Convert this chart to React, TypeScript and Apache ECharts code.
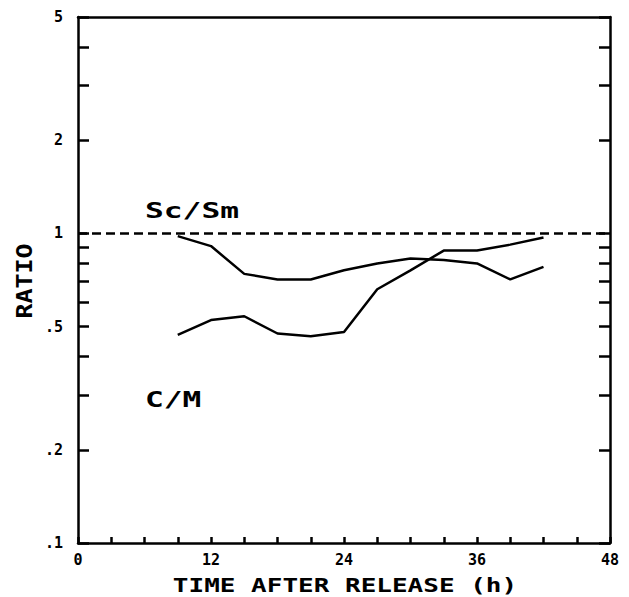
import React, { useEffect, useRef } from "react";
import * as echarts from "echarts";

// Time after release (h)
const hours = [9, 12, 15, 18, 21, 24, 27, 30, 33, 36, 39, 42];
// Ratio series
const scSmRatio = [0.98, 0.91, 0.74, 0.71, 0.71, 0.76, 0.8, 0.83, 0.82, 0.8, 0.71, 0.78];
const cmRatio = [0.47, 0.525, 0.54, 0.475, 0.465, 0.48, 0.66, 0.76, 0.88, 0.88, 0.92, 0.97];
// Reference ratio (dashed line)
const referenceRatio = 1;

// Axis ticks and labels
const yLabelValues = [0.1, 0.2, 0.5, 1, 2, 5];
const yLabelTexts = [".1", ".2", ".5", "1", "2", "5"];
const yTickValues = [0.1, 0.2, 0.3, 0.4, 0.5, 0.6, 0.7, 0.8, 0.9, 1, 2, 3, 4, 5];
const xTickValues = [0, 3, 6, 9, 12, 15, 18, 21, 24, 27, 30, 33, 36, 39, 42, 45, 48];
const xLabelValues = [0, 12, 24, 36, 48];

const FONT = '"DejaVu Sans Mono", "Liberation Mono", monospace';

function yLabel(v: number): string {
  let best = 0;
  let bestD = Infinity;
  yLabelValues.forEach((lv, i) => {
    const d = Math.abs(Math.log(v) - Math.log(lv));
    if (d < bestD) {
      bestD = d;
      best = i;
    }
  });
  return yLabelTexts[best];
}

export default function App() {
  const ref = useRef<HTMLDivElement>(null);
  useEffect(() => {
    if (!ref.current) return;
    const chart = echarts.init(ref.current, undefined, { renderer: "svg" });
    const mkLine = () => ({ show: true, onZero: false, lineStyle: { color: "#000", width: 2.5 } });
    const mkYAxis = (position: "left" | "right", showLabel: boolean) => ({
      type: "log" as const,
      position,
      min: 0.1,
      max: 5,
      logBase: 10,
      axisLine: mkLine(),
      splitLine: { show: false },
      minorTick: { show: false },
      axisTick: {
        show: true,
        inside: true,
        length: 11,
        customValues: yTickValues,
        lineStyle: { color: "#000", width: 2.5 },
      },
      axisLabel: showLabel
        ? {
            show: true,
            customValues: yLabelValues,
            margin: 15,
            color: "#000",
            fontFamily: FONT,
            fontWeight: "bold",
            fontSize: 15,
            formatter: (v: number) => yLabel(v),
          }
        : { show: false },
    });
    chart.setOption({
      animation: false,
      backgroundColor: "#fff",
      grid: { left: 78, right: 19, top: 17, bottom: 54, containLabel: false },
      xAxis: [
        {
          type: "value",
          position: "bottom",
          min: 0,
          max: 48,
          interval: 12,
          axisLine: mkLine(),
          splitLine: { show: false },
          axisTick: {
            show: true,
            inside: true,
            length: 6,
            customValues: xTickValues,
            lineStyle: { color: "#000", width: 2.5 },
          },
          axisLabel: {
            show: true,
            customValues: xLabelValues,
            margin: 9,
            color: "#000",
            fontFamily: FONT,
            fontWeight: "bold",
            fontSize: 15,
          },
        },
        {
          type: "value",
          position: "top",
          min: 0,
          max: 48,
          interval: 12,
          axisLine: mkLine(),
          splitLine: { show: false },
          axisTick: { show: false },
          axisLabel: { show: false },
        },
      ],
      yAxis: [mkYAxis("left", true), mkYAxis("right", false)],
      series: [
        {
          name: "Sc/Sm",
          type: "line",
          xAxisIndex: 0,
          yAxisIndex: 0,
          data: hours.map((h, i) => [h, scSmRatio[i]]),
          showSymbol: false,
          symbol: "none",
          lineStyle: { color: "#000", width: 2.5 },
          markLine: {
            silent: true,
            symbol: ["none", "none"],
            label: { show: false },
            lineStyle: { color: "#000", width: 2.5, type: [9, 5] },
            data: [{ yAxis: referenceRatio }],
          },
        },
        {
          name: "C/M",
          type: "line",
          xAxisIndex: 0,
          yAxisIndex: 0,
          data: hours.map((h, i) => [h, cmRatio[i]]),
          showSymbol: false,
          symbol: "none",
          lineStyle: { color: "#000", width: 2.5 },
        },
      ],
      graphic: [
        {
          type: "text",
          x: 345,
          y: 585,
          scaleX: 1.3,
          style: {
            text: "TIME AFTER RELEASE (h)",
            font: `bold 20px ${FONT}`,
            fill: "#000",
            align: "center",
            verticalAlign: "middle",
            textAlign: "center",
            textVerticalAlign: "middle",
          },
        },
        {
          type: "text",
          x: 25,
          y: 281,
          rotation: Math.PI / 2,
          scaleX: 1.19,
          style: {
            text: "RATIO",
            font: `bold 21px ${FONT}`,
            fill: "#000",
            align: "center",
            verticalAlign: "middle",
            textAlign: "center",
            textVerticalAlign: "middle",
          },
        },
        {
          type: "text",
          x: 145,
          y: 210,
          scaleX: 1.42,
          style: {
            text: "Sc/Sm",
            font: `bold 22px ${FONT}`,
            fill: "#000",
            align: "left",
            verticalAlign: "middle",
            textAlign: "left",
            textVerticalAlign: "middle",
          },
        },
        {
          type: "text",
          x: 145,
          y: 399,
          scaleX: 1.42,
          style: {
            text: "C/M",
            font: `bold 22px ${FONT}`,
            fill: "#000",
            align: "left",
            verticalAlign: "middle",
            textAlign: "left",
            textVerticalAlign: "middle",
          },
        },
      ],
    });
    return () => chart.dispose();
  }, []);
  return (
    <div style={{ position: "absolute", left: 0, top: 0, width: 629, height: 597, background: "#fff" }}>
      <div ref={ref} style={{ width: 629, height: 597 }} />
    </div>
  );
}
